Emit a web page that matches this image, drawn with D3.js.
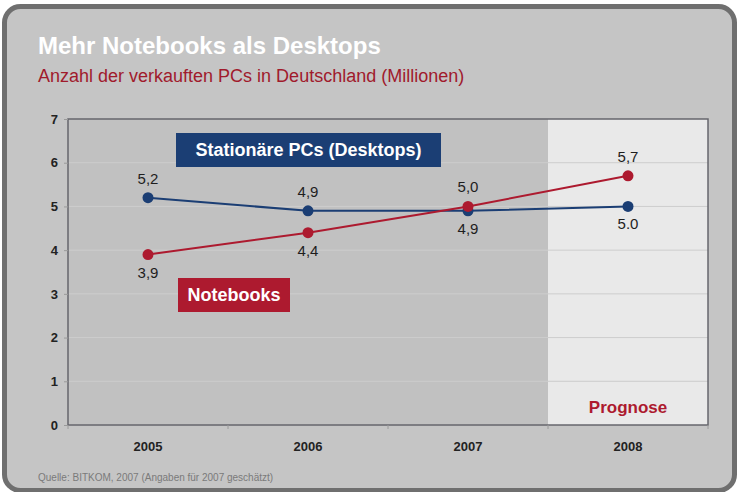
<!DOCTYPE html>
<html>
<head>
<meta charset="utf-8">
<script src="https://cdn.jsdelivr.net/npm/d3@7"></script>
<style>
  body { margin: 0; background: #fff; }
  svg { display: block; font-family: "Liberation Sans", Arial, sans-serif; }
</style>
</head>
<body>
<div id="chart"></div>
<script>
// Chart data
const years = ["2005", "2006", "2007", "2008"];
const desktops = [5.2, 4.9, 4.9, 5.0];
const notebooks = [3.9, 4.4, 5.0, 5.7];
const desktopLabels = ["5,2", "4,9", "4,9", "5.0"];
const notebookLabels = ["3,9", "4,4", "5,0", "5,7"];
const yTicks = [0, 1, 2, 3, 4, 5, 6, 7];
const forecastYear = "2008";

const width = 738;
const height = 492;
const margin = {left: 68, right: 30, top: 119, bottom: 67};

const blue = "#1b3e74";
const red = "#ad1a2f";

const svg = d3.select("#chart")
  .append("svg")
  .attr("width", width)
  .attr("height", height);

// rounded gray panel
svg.append("rect")
  .attr("x", 4.5).attr("y", 6.5)
  .attr("width", 730).attr("height", 484)
  .attr("rx", 16)
  .attr("fill", "#c5c5c5")
  .attr("stroke", "#6f6f6f")
  .attr("stroke-width", 5);

// scales
const xScale = d3.scaleBand()
  .domain(years)
  .range([margin.left, width - margin.right]);

const yScale = d3.scaleLinear()
  .domain([0, 7])
  .range([height - margin.bottom, margin.top]);

const cx = d => xScale(d) + xScale.bandwidth() / 2;

// plot background
svg.append("rect")
  .attr("x", margin.left).attr("y", margin.top)
  .attr("width", width - margin.left - margin.right)
  .attr("height", height - margin.top - margin.bottom)
  .attr("fill", "#c1c1c1");

// forecast area
svg.append("rect")
  .attr("x", xScale(forecastYear)).attr("y", margin.top)
  .attr("width", xScale.bandwidth())
  .attr("height", height - margin.top - margin.bottom)
  .attr("fill", "#e9e9e9");

// faint gridlines
svg.append("g")
  .selectAll("line")
  .data(yTicks.slice(1, -1))
  .enter()
  .append("line")
    .attr("x1", margin.left).attr("x2", width - margin.right)
    .attr("y1", d => yScale(d)).attr("y2", d => yScale(d))
    .attr("stroke", "#cdcdcd")
    .attr("stroke-width", 1);

// plot frame
svg.append("rect")
  .attr("x", margin.left).attr("y", margin.top)
  .attr("width", width - margin.left - margin.right)
  .attr("height", height - margin.top - margin.bottom)
  .attr("fill", "none")
  .attr("stroke", "#66666c")
  .attr("stroke-width", 1.5);

// y axis
const yAxis = svg.append("g")
  .attr("transform", `translate(${margin.left}, 0)`)
  .call(d3.axisLeft(yScale).tickValues(yTicks).tickFormat(d3.format("d")).tickSize(4).tickSizeOuter(0));
yAxis.select(".domain").remove();
yAxis.selectAll("line").attr("stroke", "#9a9a9a");
yAxis.selectAll("text")
  .attr("font-size", "13px")
  .attr("font-weight", "bold")
  .attr("fill", "#222")
  .attr("x", -10);

// x axis
const xAxis = svg.append("g")
  .attr("transform", `translate(0, ${height - margin.bottom})`)
  .call(d3.axisBottom(xScale).tickSize(0));
xAxis.select(".domain").remove();
xAxis.selectAll("text")
  .attr("font-size", "13px")
  .attr("font-weight", "bold")
  .attr("fill", "#222")
  .attr("dy", "1.75em");
// small tick marks at band boundaries
svg.append("g")
  .selectAll("line")
  .data(years.concat(["end"]))
  .enter()
  .append("line")
    .attr("x1", (d, i) => margin.left + i * xScale.bandwidth())
    .attr("x2", (d, i) => margin.left + i * xScale.bandwidth())
    .attr("y1", height - margin.bottom)
    .attr("y2", height - margin.bottom + 4)
    .attr("stroke", "#9a9a9a");

// series
const series = [
  {values: desktops, labels: desktopLabels, color: blue, offsets: [-14, -14, 23, 23]},
  {values: notebooks, labels: notebookLabels, color: red, offsets: [23, 23, -14, -14]}
];

const line = d3.line()
  .x((d, i) => cx(years[i]))
  .y(d => yScale(d));

series.forEach(s => {
  svg.append("path")
    .datum(s.values)
    .attr("d", line)
    .attr("fill", "none")
    .attr("stroke", s.color)
    .attr("stroke-width", 2);

  svg.selectAll(null)
    .data(s.values)
    .enter()
    .append("circle")
      .attr("cx", (d, i) => cx(years[i]))
      .attr("cy", d => yScale(d))
      .attr("r", 5.5)
      .attr("fill", s.color);

  svg.selectAll(null)
    .data(s.values)
    .enter()
    .append("text")
      .attr("x", (d, i) => cx(years[i]))
      .attr("y", (d, i) => yScale(d) + s.offsets[i])
      .attr("text-anchor", "middle")
      .attr("font-size", "15px")
      .attr("fill", "#1e1e1e")
      .text((d, i) => s.labels[i]);
});

// legend boxes
const legends = [
  {text: "Stationäre PCs (Desktops)", color: blue, x: 176, y: 133, w: 265, h: 34},
  {text: "Notebooks", color: red, x: 178, y: 278, w: 112, h: 34}
];
legends.forEach(l => {
  svg.append("rect")
    .attr("x", l.x).attr("y", l.y)
    .attr("width", l.w).attr("height", l.h)
    .attr("fill", l.color);
  svg.append("text")
    .attr("x", l.x + l.w / 2).attr("y", l.y + l.h / 2 + 6)
    .attr("text-anchor", "middle")
    .attr("font-size", "18px")
    .attr("font-weight", "bold")
    .attr("fill", "#fff")
    .text(l.text);
});

// forecast label
svg.append("text")
  .attr("x", cx(forecastYear)).attr("y", yScale(0) - 12)
  .attr("text-anchor", "middle")
  .attr("font-size", "17px")
  .attr("font-weight", "bold")
  .attr("fill", red)
  .text("Prognose");

// titles
svg.append("text")
  .attr("x", 38).attr("y", 54)
  .attr("font-size", "24px")
  .attr("font-weight", "bold")
  .attr("fill", "#fff")
  .text("Mehr Notebooks als Desktops");

svg.append("text")
  .attr("x", 38).attr("y", 82)
  .attr("font-size", "18px")
  .attr("fill", "#a01a2c")
  .text("Anzahl der verkauften PCs in Deutschland (Millionen)");

// source
svg.append("text")
  .attr("x", 38).attr("y", 481)
  .attr("font-size", "10px")
  .attr("fill", "#7a7a7a")
  .text("Quelle: BITKOM, 2007 (Angaben für 2007 geschätzt)");
</script>
</body>
</html>
